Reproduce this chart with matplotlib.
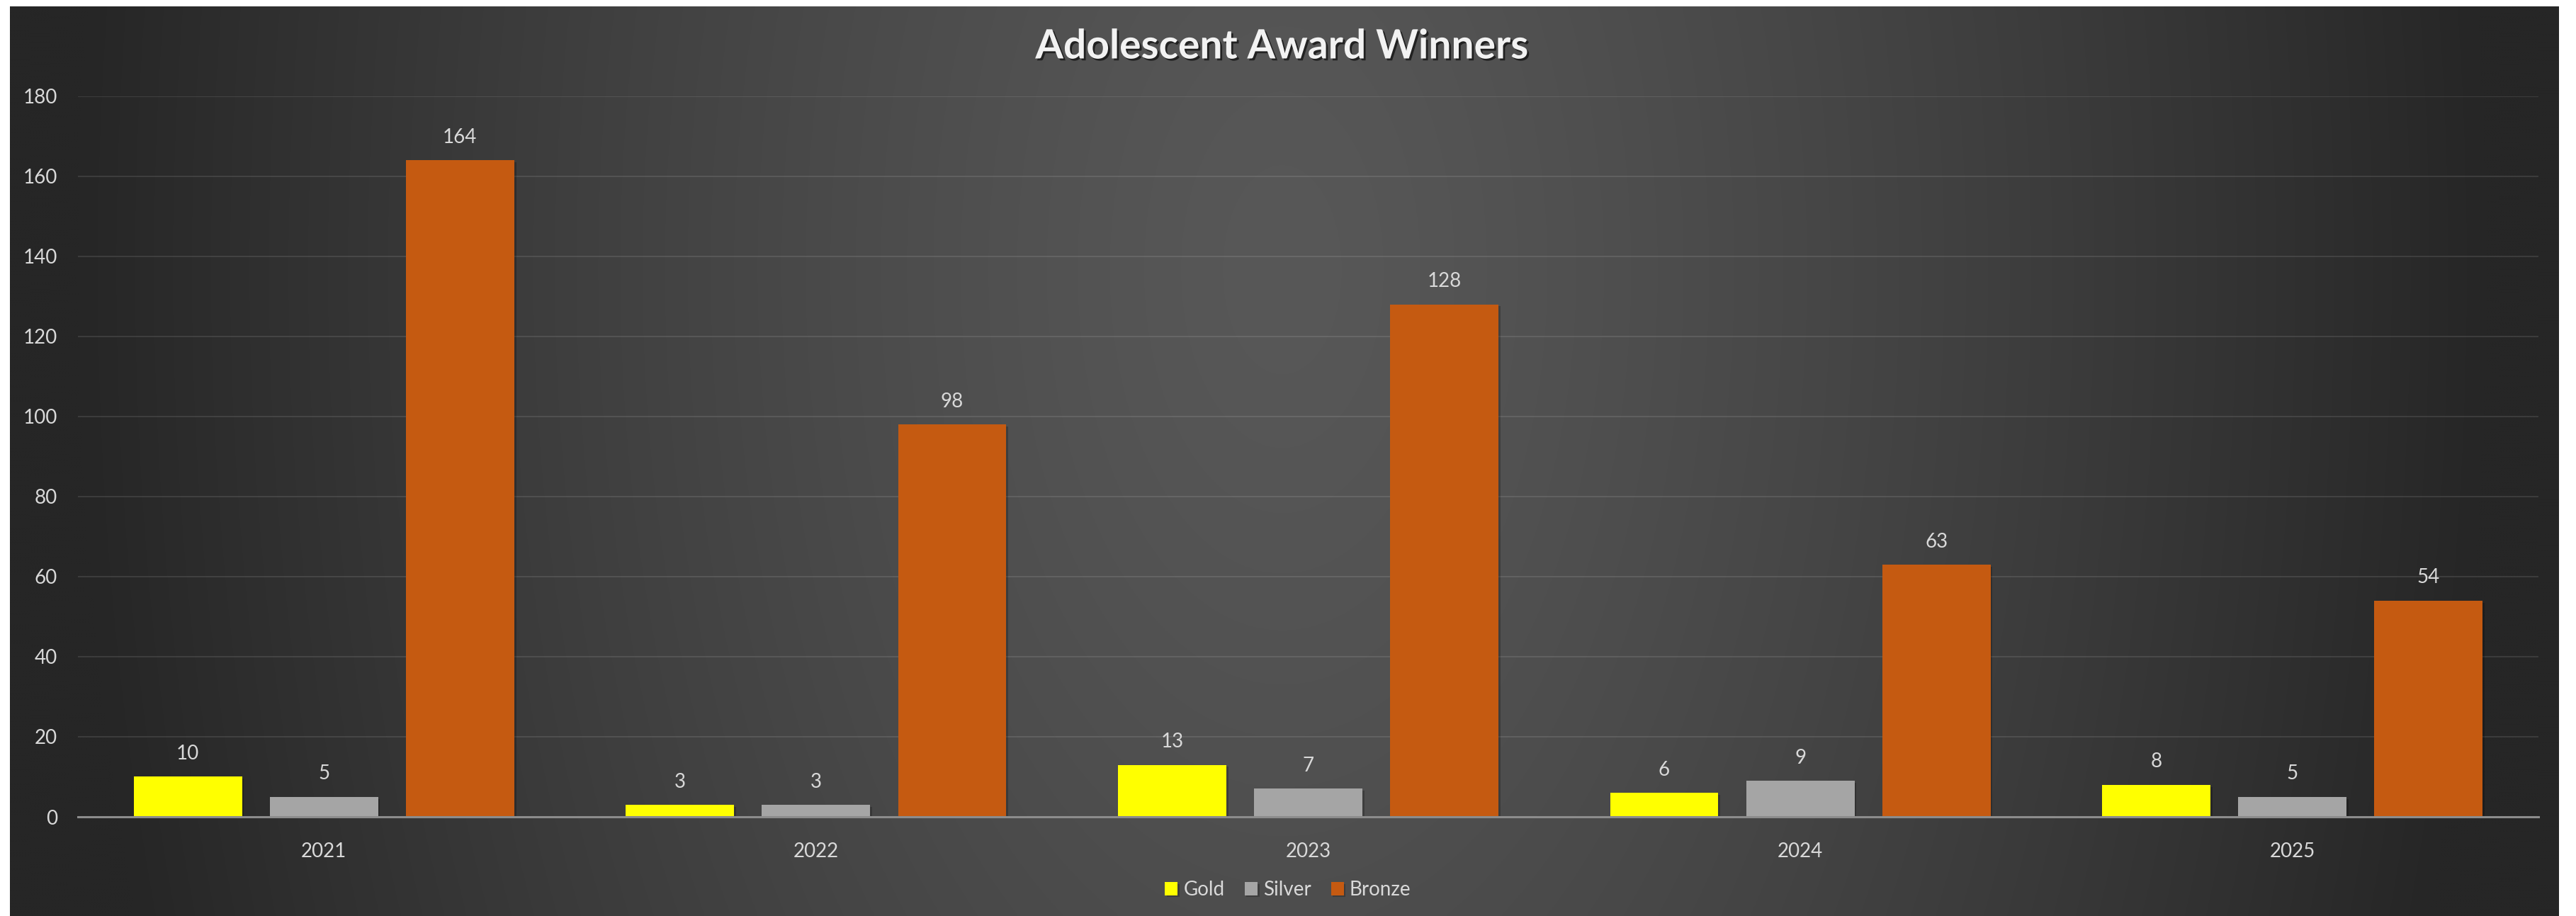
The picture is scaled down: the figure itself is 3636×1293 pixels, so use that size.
import numpy as np
import matplotlib.pyplot as plt
import matplotlib.patheffects as pe

years = ["2021", "2022", "2023", "2024", "2025"]
gold = [10, 3, 13, 6, 8]
silver = [5, 3, 7, 9, 5]
bronze = [164, 98, 128, 63, 54]

series = [("Gold", gold, "#FFFF00"),
          ("Silver", silver, "#A5A5A5"),
          ("Bronze", bronze, "#C55A11")]

plt.rcParams["font.family"] = ["Lato", "DejaVu Sans"]

W, H = 3637, 1293
fig = plt.figure(figsize=(W / 100, H / 100), dpi=100, facecolor="white")

# dark radial backdrop of the chart area
bg = fig.add_axes([14 / W, 0, (3612 - 14) / W, (H - 9) / H])
bg.set_axis_off()
xx, yy = np.meshgrid(np.linspace(14, 3612, 900), np.linspace(9, H, 320))
d = np.sqrt(((xx - 1810) / 1700) ** 2 + ((yy - 380) / 3000) ** 2)
d = np.clip(d, 0, 1) ** 1.3
shade = (88 - (88 - 38) * d) / 255
bg.imshow(np.dstack([shade, shade, shade]), aspect="auto",
          extent=[0, 1, 0, 1], interpolation="bilinear")
bg.set_xlim(0, 1)
bg.set_ylim(0, 1)

ax = fig.add_axes([110 / W, (H - 1153) / H, (3583 - 110) / W, (1153 - 135.7) / H])
ax.set_facecolor("none")

x = np.arange(len(years))
width = 0.22
step = 0.2765
shadow = [pe.SimplePatchShadow(offset=(2, -2), shadow_rgbFace="black", alpha=0.22),
          pe.Normal()]

for i, (name, vals, color) in enumerate(series):
    pos = x + (i - 1) * step
    bars = ax.bar(pos, vals, width, color=color, label=name, zorder=3)
    for b in bars:
        b.set_path_effects(shadow)
    for px, v in zip(pos, vals):
        ax.annotate(str(v), (px, v), xytext=(0, 14), textcoords="offset points",
                    ha="center", va="bottom", fontsize=20, color="#D9D9D9")

ax.set_xlim(-0.5, len(years) - 0.5)
ax.set_ylim(0, 180)
ax.set_yticks(range(0, 181, 20))
ax.set_xticks(x)
ax.set_xticklabels(years)
ax.tick_params(axis="both", length=0, labelsize=20, labelcolor="#D9D9D9")
ax.tick_params(axis="y", pad=21)
ax.tick_params(axis="x", pad=26)
ax.grid(axis="y", color="white", alpha=0.1, linewidth=1.5, zorder=0)
for side in ["top", "right", "left"]:
    ax.spines[side].set_visible(False)
ax.spines["bottom"].set_color("#8C8C8C")
ax.spines["bottom"].set_linewidth(2.2)
ax.spines["bottom"].set_zorder(4)

fig.text(1810 / W, 1 - 66 / H, "Adolescent Award Winners", ha="center", va="center",
         fontsize=41, fontweight="bold", color="#F2F2F2",
         path_effects=[pe.withSimplePatchShadow(offset=(2, -2), shadow_rgbFace="black", alpha=0.6)])

fig.legend(loc="center", bbox_to_anchor=(1818 / W, 1 - 1256 / H), ncol=3, frameon=False,
           fontsize=20, labelcolor="#D9D9D9", handlelength=0.65, handleheight=0.65,
           handletextpad=0.3, columnspacing=1.0)

fig.savefig("out.png", dpi=100, facecolor="white")
